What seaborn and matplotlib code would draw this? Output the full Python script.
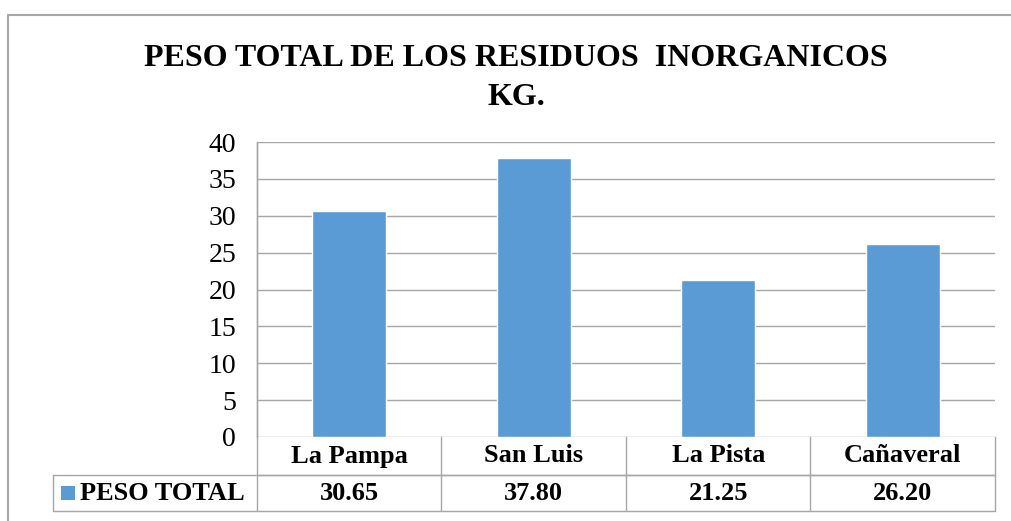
import matplotlib
matplotlib.use("Agg")
import matplotlib.pyplot as plt
import seaborn as sns
import pandas as pd
from matplotlib.lines import Line2D
from matplotlib.patches import Rectangle

sitios = ["La Pampa", "San Luis", "La Pista", "Cañaveral"]
peso_total = [30.65, 37.80, 21.25, 26.20]
serie = "PESO TOTAL"
titulo = "PESO TOTAL DE LOS RESIDUOS  INORGANICOS\nKG."

W, H = 1012, 521
azul = "#5B9BD5"
gris = "#A6A6A6"

sns.set_style("white")
plt.rcParams["font.family"] = ["Liberation Serif", "DejaVu Serif"]
plt.rcParams["text.color"] = "black"
plt.rcParams["ytick.color"] = "black"

fig = plt.figure(figsize=(W / 100, H / 100), dpi=100)

def fx(px):
    return px / W

def fy(py):
    return 1 - py / H

x0, x1, y_top, y_bot = 257, 995, 142, 437
ax = fig.add_axes([fx(x0), fy(y_bot), fx(x1) - fx(x0), fy(y_top) - fy(y_bot)])

df = pd.DataFrame({"sitio": sitios, "peso": peso_total})
sns.barplot(data=df, x="sitio", y="peso", color=azul, width=0.4,
            saturation=1, ax=ax)

ax.set_ylim(0, 40)
ax.set_yticks(range(0, 41, 5))
ax.set_xlim(-0.5, len(sitios) - 0.5)
ax.set_xticks([])
ax.set_xlabel("")
ax.set_ylabel("")
ax.yaxis.grid(True, color=gris, linewidth=1)
ax.set_axisbelow(True)
ax.tick_params(axis="y", length=0, pad=15, labelsize=20)
for s in ["top", "right", "bottom"]:
    ax.spines[s].set_visible(False)
ax.spines["left"].set_color(gris)
ax.spines["left"].set_linewidth(1)

# tabla de datos
r1, r2 = 475, 511
t_left = 53
cat_w = (x1 - x0) / len(sitios)
lines = [
    ((x0, x0), (y_top, r2)),
    ((x1, x1), (y_bot, r2)),
    ((x0, x1), (r1, r1)),
    ((t_left, x1), (r1, r1)),
    ((t_left, x1), (r2, r2)),
    ((t_left, t_left), (r1, r2)),
]
for i in range(1, len(sitios)):
    xi = x0 + cat_w * i
    lines.append(((xi, xi), (y_bot, r2)))
for (xa, xb), (ya, yb) in lines:
    fig.add_artist(Line2D([fx(xa), fx(xb)], [fy(ya), fy(yb)], color=gris, lw=1))

for i, (s, v) in enumerate(zip(sitios, peso_total)):
    fig.text(fx(x0 + cat_w * (i + 0.5)), fy((y_bot + r1) / 2), s,
             ha="center", va="center", fontsize=19, fontweight="bold")
    fig.text(fx(x0 + cat_w * (i + 0.5)), fy((r1 + r2) / 2), f"{v:.2f}",
             ha="center", va="center", fontsize=19, fontweight="bold")

fig.add_artist(Rectangle((fx(61), fy(500)), fx(14), fy(486) - fy(500),
                         color=azul, lw=0))
fig.text(fx(80), fy((r1 + r2) / 2), serie, ha="left", va="center",
         fontsize=19, fontweight="bold")

# titulo
fig.text(fx(516), fy(78), titulo, ha="center", va="center", fontsize=23,
         fontweight="bold", linespacing=1.45)

# marco del grafico
fig.add_artist(Line2D([fx(8), fx(8)], [fy(15), 0], color=gris, lw=1.5))
fig.add_artist(Line2D([fx(8), 1], [fy(15), fy(15)], color=gris, lw=1.5))

fig.savefig("out.png", dpi=100)
